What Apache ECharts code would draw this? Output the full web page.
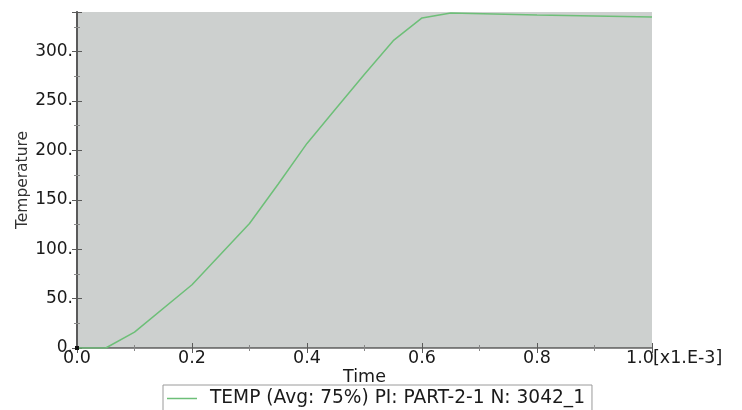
<!DOCTYPE html>
<html>
<head>
<meta charset="utf-8">
<script src="https://cdn.jsdelivr.net/npm/echarts@6/dist/echarts.min.js"></script>
<style>
  html, body { margin: 0; padding: 0; background: #fff; }
  #chart { width: 742px; height: 410px; }
</style>
</head>
<body>
<div id="chart"></div>
<script>
// time in units of 1e-3 s, temperature
const timeValues = [0, 0.05, 0.1, 0.2, 0.3, 0.35, 0.4, 0.45, 0.5, 0.55, 0.6, 0.65, 0.8, 1.0];
const tempValues = [0, 0, 16, 64, 126, 166, 207, 242, 277, 311, 334, 339, 337, 335];
const seriesName = 'TEMP (Avg: 75%) PI: PART-2-1 N: 3042_1';

const font = 'DejaVu Sans';
const axisColor = '#5a5a5a';
const textColor = '#1a1a1a';

const chart = echarts.init(document.getElementById('chart'));

const points = timeValues.map((t, i) => {
  if (i === 0) {
    return { value: [t, tempValues[i]], symbol: 'rect', symbolSize: 4, itemStyle: { color: '#111' } };
  }
  return [t, tempValues[i]];
});

const option = {
  animation: false,
  backgroundColor: '#fff',
  grid: {
    left: 77, right: 90, top: 12, bottom: 62,
    outerBoundsMode: 'none',
    show: true, backgroundColor: '#cdd0cf', borderWidth: 0
  },
  legend: {
    data: [{ name: seriesName, icon: 'rect' }],
    left: 163, top: 385,
    itemWidth: 30, itemHeight: 1.5, itemGap: 10,
    padding: [4, 7, 6, 4],
    borderColor: '#9a9a9a', borderWidth: 1,
    textStyle: { fontFamily: font, fontSize: 18.6, color: textColor, padding: [0, 0, 0, 8] }
  },
  xAxis: [
    {
      type: 'value', min: 0, max: 1, interval: 0.2,
      name: 'Time', nameLocation: 'middle', nameGap: 20, nameMoveOverlap: false,
      nameTextStyle: { fontFamily: font, fontSize: 17.5, color: textColor },
      axisLine: { show: true, lineStyle: { color: axisColor, width: 1.5 } },
      axisTick: { show: true, inside: true, length: 5, lineStyle: { color: axisColor } },
      minorTick: { show: true, splitNumber: 2, length: 3, lineStyle: { color: '#888' } },
      axisLabel: {
        fontFamily: font, fontSize: 17.5, color: textColor, margin: 1,
        formatter: v => (v === 1 ? '{last|1.0}' : v.toFixed(1)),
        rich: { last: { fontFamily: font, fontSize: 17.5, color: textColor, padding: [0, 24, 0, 0] } }
      },
      splitLine: { show: false }
    },
    {
      type: 'value', min: 0, max: 1, interval: 0.2, position: 'top',
      axisLine: { show: true, lineStyle: { color: '#8a8a8a', width: 1 } },
      axisTick: { show: true, inside: true, length: 5, lineStyle: { color: axisColor } },
      minorTick: { show: true, splitNumber: 2, length: 3, lineStyle: { color: '#888' } },
      axisLabel: { show: false },
      splitLine: { show: false }
    }
  ],
  yAxis: [
    {
      type: 'value', min: 0, max: 340, interval: 50,
      name: 'Temperature', nameLocation: 'middle', nameGap: 46, nameMoveOverlap: false,
      nameTextStyle: { fontFamily: font, fontSize: 15.5, color: '#333' },
      axisLine: { show: true, lineStyle: { color: axisColor, width: 1.5 } },
      axisTick: { show: true, inside: true, length: 5, lineStyle: { color: axisColor } },
      minorTick: { show: true, splitNumber: 2, length: 3, lineStyle: { color: '#888' } },
      axisLabel: {
        fontFamily: font, fontSize: 17, color: textColor, margin: 4,
        showMaxLabel: false, hideOverlap: false,
        formatter: v => v + '.'
      },
      splitLine: { show: false }
    },
    {
      type: 'value', min: 0, max: 340, interval: 50, position: 'right',
      axisLine: { show: true, lineStyle: { color: axisColor, width: 2 } },
      axisTick: { show: true, inside: true, length: 5, lineStyle: { color: axisColor } },
      minorTick: { show: true, splitNumber: 2, length: 3, lineStyle: { color: '#888' } },
      axisLabel: { show: false },
      splitLine: { show: false }
    }
  ],
  graphic: [
    {
      type: 'text', left: 653, top: 349,
      style: { text: '[x1.E-3]', font: '17.5px "DejaVu Sans"', fill: textColor }
    }
  ],
  series: [
    {
      name: seriesName,
      type: 'line',
      data: points,
      symbol: 'none',
      color: '#6dbf78',
      lineStyle: { color: '#6dbf78', width: 1.5 }
    }
  ]
};

chart.setOption(option);
</script>
</body>
</html>
